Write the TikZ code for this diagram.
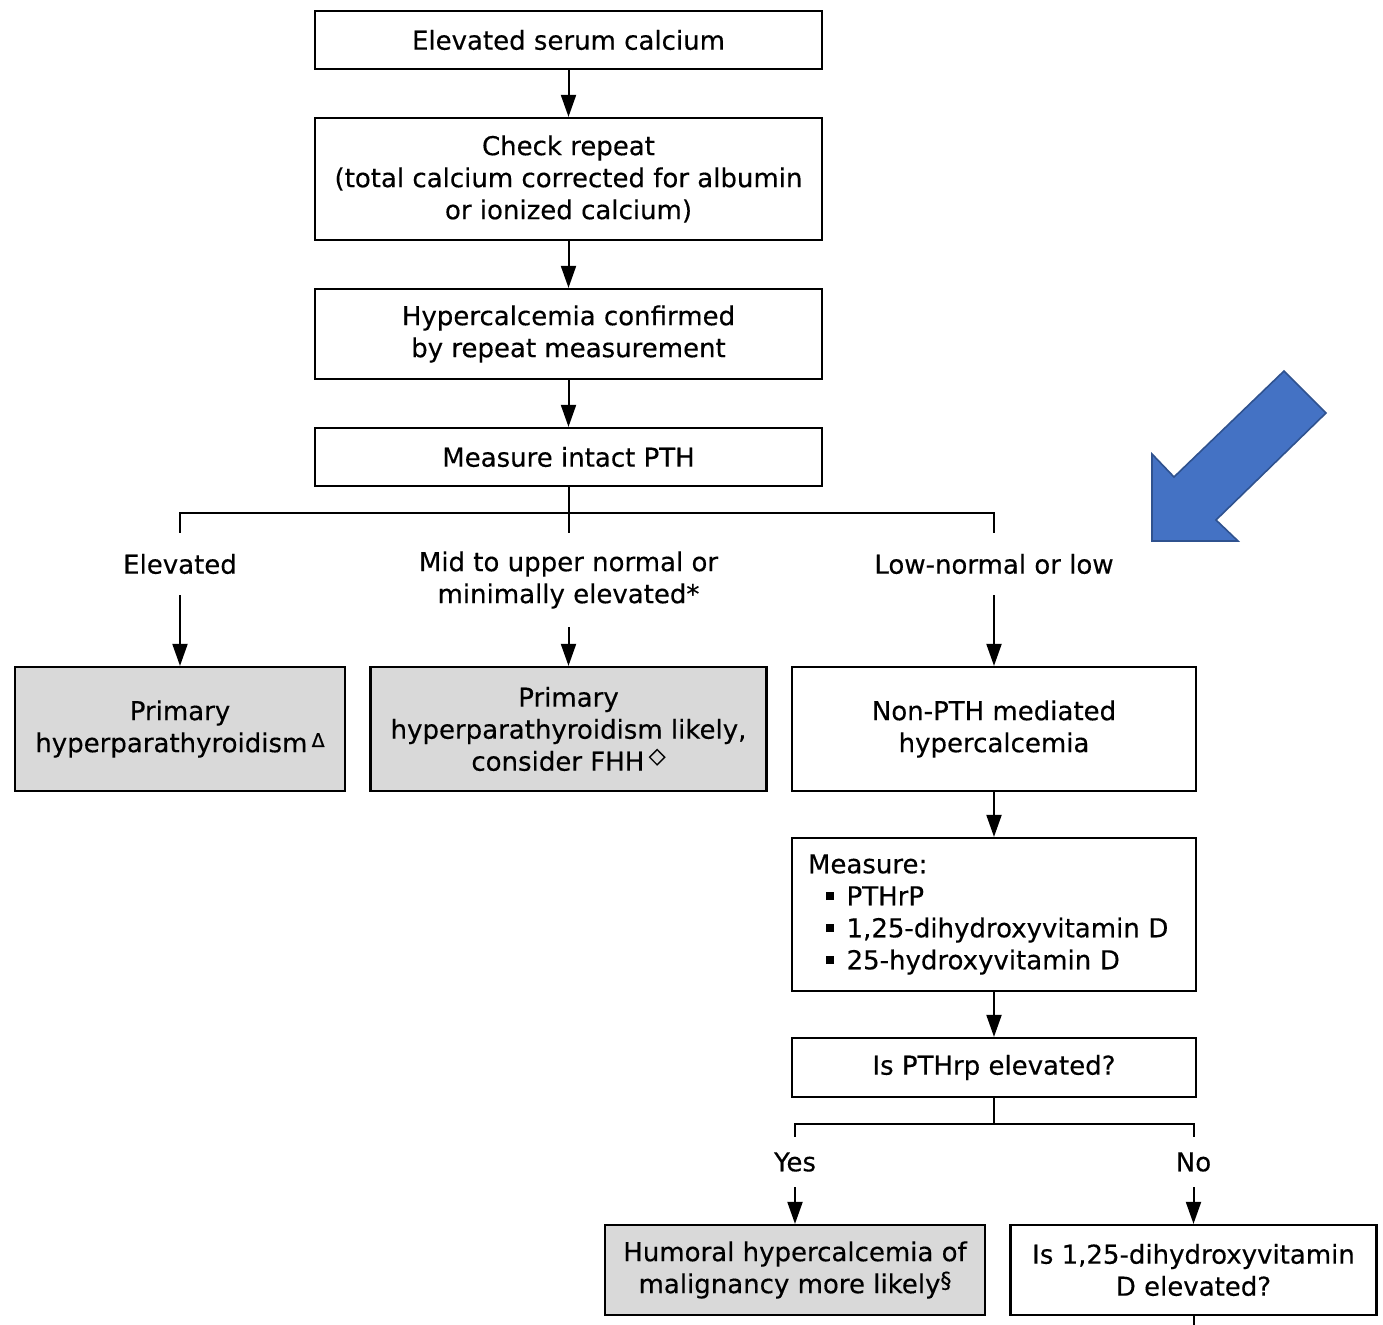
\documentclass[tikz,border=0pt]{standalone}
\usepackage{fontspec}
\setmainfont{DejaVu Sans}[FakeBold=0.35]
\usetikzlibrary{arrows.meta}

\definecolor{boxgray}{RGB}{217,217,217}
\definecolor{arrowblue}{RGB}{68,114,196}
\definecolor{arrowedge}{RGB}{47,82,143}

\newcommand{\supmark}[3][0.2em]{\raisebox{#1}{\fontsize{#2}{#2}\selectfont #3}}
\newcommand{\sqbul}{\rule[0.2em]{3.8pt}{3.8pt}}

\tikzset{
  stepbox/.style={draw, line width=1.1pt, align=center, inner sep=0pt},
  graybox/.style={stepbox, fill=boxgray},
  branchlabel/.style={align=center, inner sep=0pt},
  flow/.style={-{Triangle[width=7.5pt,length=11pt]}, line width=1pt},
  joint/.style={line width=1pt},
}

\begin{document}
\begin{tikzpicture}[x=0.5pt, y=-0.5pt, font=\fontsize{13}{16}\selectfont]
  \useasboundingbox (0,0) rectangle (1383,1325);

  % main column
  \node (serum)   [stepbox, minimum width=253.5pt, minimum height=29pt] at (568.5,40)  {Elevated serum calcium};
  \node (repeat)  [stepbox, minimum width=253.5pt, minimum height=61pt] at (568.5,179) {Check repeat\\(total calcium corrected for albumin\\or ionized calcium)};
  \node (confirm) [stepbox, minimum width=253.5pt, minimum height=45pt] at (568.5,334) {Hypercalcemia confirmed\\by repeat measurement};
  \node (intact)  [stepbox, minimum width=253.5pt, minimum height=29pt] at (568.5,457) {Measure intact PTH};

  % PTH branches
  \coordinate (pthsplit) at (568.5,513);
  \node (lelev) [branchlabel, minimum height=31pt] at (180,564)   {Elevated};
  \node (lmid)  [branchlabel, minimum height=47pt] at (568.5,580) {Mid to upper normal or\\minimally elevated*};
  \node (llow)  [branchlabel, minimum height=31pt] at (994,564)   {Low-normal or low};

  \node (phpt)   [graybox, minimum width=165pt, minimum height=62pt] at (180,729)   {Primary\\hyperparathyroidism\,\supmark{9.5}{Δ}};
  \node (likely) [graybox, minimum width=198pt, minimum height=62pt] at (568.5,729) {Primary\\hyperparathyroidism likely,\\consider FHH\,\supmark[0.3em]{11}{◇}};
  \node (nonpth) [stepbox, minimum width=202pt, minimum height=62pt] at (994,729)   {Non-PTH mediated\\hypercalcemia};

  % non-PTH column
  \node (measure) [stepbox, align=left, text width=186pt, inner xsep=8pt, minimum height=76.5pt] at (994,914.5)
    {Measure:\\
     \hspace*{9pt}\sqbul\hspace{6.5pt}PTHrP\\
     \hspace*{9pt}\sqbul\hspace{6.5pt}1,25-dihydroxyvitamin D\\
     \hspace*{9pt}\sqbul\hspace{6.5pt}25-hydroxyvitamin D};
  \node (pthrp) [stepbox, minimum width=202pt, minimum height=29.5pt] at (994,1067.5) {Is PTHrp elevated?};

  \coordinate (ynsplit) at (994,1124);
  \node (lyes) [branchlabel, minimum height=25pt] at (795,1162)    {Yes};
  \node (lno)  [branchlabel, minimum height=25pt] at (1193.5,1162) {No};

  \node (humoral)    [graybox, minimum width=190pt, minimum height=45pt] at (795,1270)    {Humoral hypercalcemia of\\malignancy more likely\supmark[0.2em]{11}{§}};
  \node (calcitriol) [stepbox, minimum width=183pt, minimum height=45pt] at (1193.5,1270) {Is 1,25-dihydroxyvitamin\\D elevated?};
  \coordinate (offpage) at (1193.5,1325);

  % connectors
  \draw [flow] (serum) -- (repeat);
  \draw [flow] (repeat) -- (confirm);
  \draw [flow] (confirm) -- (intact);
  \draw [joint] (intact) -- (pthsplit);
  \draw [joint] (lelev.north) |- (pthsplit) -| (llow.north);
  \draw [joint] (pthsplit) -- (lmid.north);
  \draw [flow] (lelev) -- (phpt);
  \draw [flow] (lmid) -- (likely);
  \draw [flow] (llow) -- (nonpth);

  \draw [flow] (nonpth) -- (measure);
  \draw [flow] (measure) -- (pthrp);
  \draw [joint] (pthrp) -- (ynsplit);
  \draw [joint] (lyes.north) |- (ynsplit) -| (lno.north);
  \draw [flow] (lyes) -- (humoral);
  \draw [flow] (lno) -- (calcitriol);
  \draw [joint] (calcitriol) -- (offpage);

  % blue pointer
  \filldraw [fill=arrowblue, draw=arrowedge, line width=0.8pt]
    (1284,371) -- (1326,413) -- (1216,520) -- (1238,541) -- (1152,541) -- (1152,454) -- (1174,477) -- cycle;
\end{tikzpicture}
\end{document}
